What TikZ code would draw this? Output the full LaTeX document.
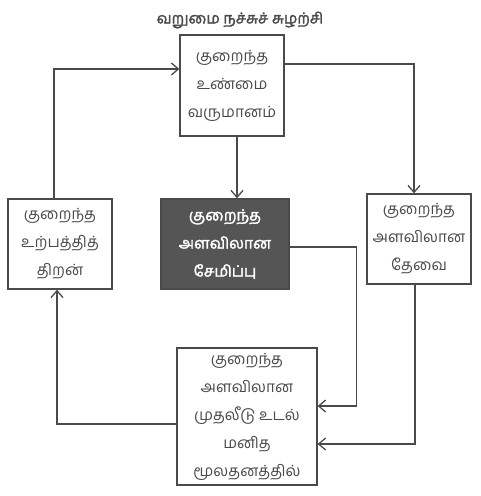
\documentclass[tikz,border=0pt]{standalone}
\usepackage{fontspec}
\newfontfamily\tamil[Script=Tamil]{Hind Madurai}
\newfontfamily\tamilbold[Script=Tamil,FakeBold=2]{Hind Madurai}
\usetikzlibrary{arrows.meta}
\definecolor{ink}{HTML}{4A4A4A}
\definecolor{darkfill}{HTML}{555555}
\tikzset{
  box/.style={draw=ink, line width=1.3pt, text=ink, align=center, inner sep=0pt,
    font=\tamil\fontsize{15.5}{28}\selectfont},
  darkbox/.style={box, fill=darkfill, text=white, font=\tamilbold\fontsize{15.5}{28}\selectfont},
  arr/.style={draw=ink, line width=1.3pt, -{Straight Barb[length=7pt,width=12pt,line width=1.3pt]}},
}
\begin{document}
\begin{tikzpicture}[x=1pt,y=-1pt]
\useasboundingbox (0,0) rectangle (480,496);
\node[font=\tamilbold\fontsize{15}{17}\selectfont, text=ink] (title) at (240,20) {வறுமை நச்சுச் சுழற்சி};
\node[box, minimum width=104pt, minimum height=101pt] (top) at (232,85.5) {குறைந்த\\உண்மை\\வருமானம்};
\node[darkbox, minimum width=128pt, minimum height=90pt] (dark) at (225,244) {குறைந்த\\அளவிலான\\சேமிப்பு};
\node[box, minimum width=104pt, minimum height=90pt] (left) at (60,244) {குறைந்த\\உற்பத்தித்\\திறன்};
\node[box, minimum width=104pt, minimum height=90pt] (right) at (419,239) {குறைந்த\\அளவிலான\\தேவை};
\node[box, minimum width=140pt, minimum height=137pt] (bottom) at (247,416.5) {குறைந்த\\அளவிலான\\முதலீடு உடல்\\மனித\\மூலதனத்தில்};
\draw[arr] ([xshift=-6pt]left.north) |- ([yshift=16.5pt]top.west);
\draw[arr] ([yshift=21.5pt]top.east) -| ([xshift=-5pt]right.north);
\draw[arr] ([xshift=5pt]top.south) -- ([xshift=12pt]dark.north);
\draw[arr] ([yshift=-3pt]dark.east) -- ++(67,0) |- ([yshift=10.5pt]bottom.east);
\draw[arr] ([xshift=-4pt]right.south) |- ([yshift=-27.5pt]bottom.east);
\draw[arr] ([yshift=-7.5pt]bottom.west) -| ([xshift=-3pt]left.south);
\end{tikzpicture}
\end{document}
